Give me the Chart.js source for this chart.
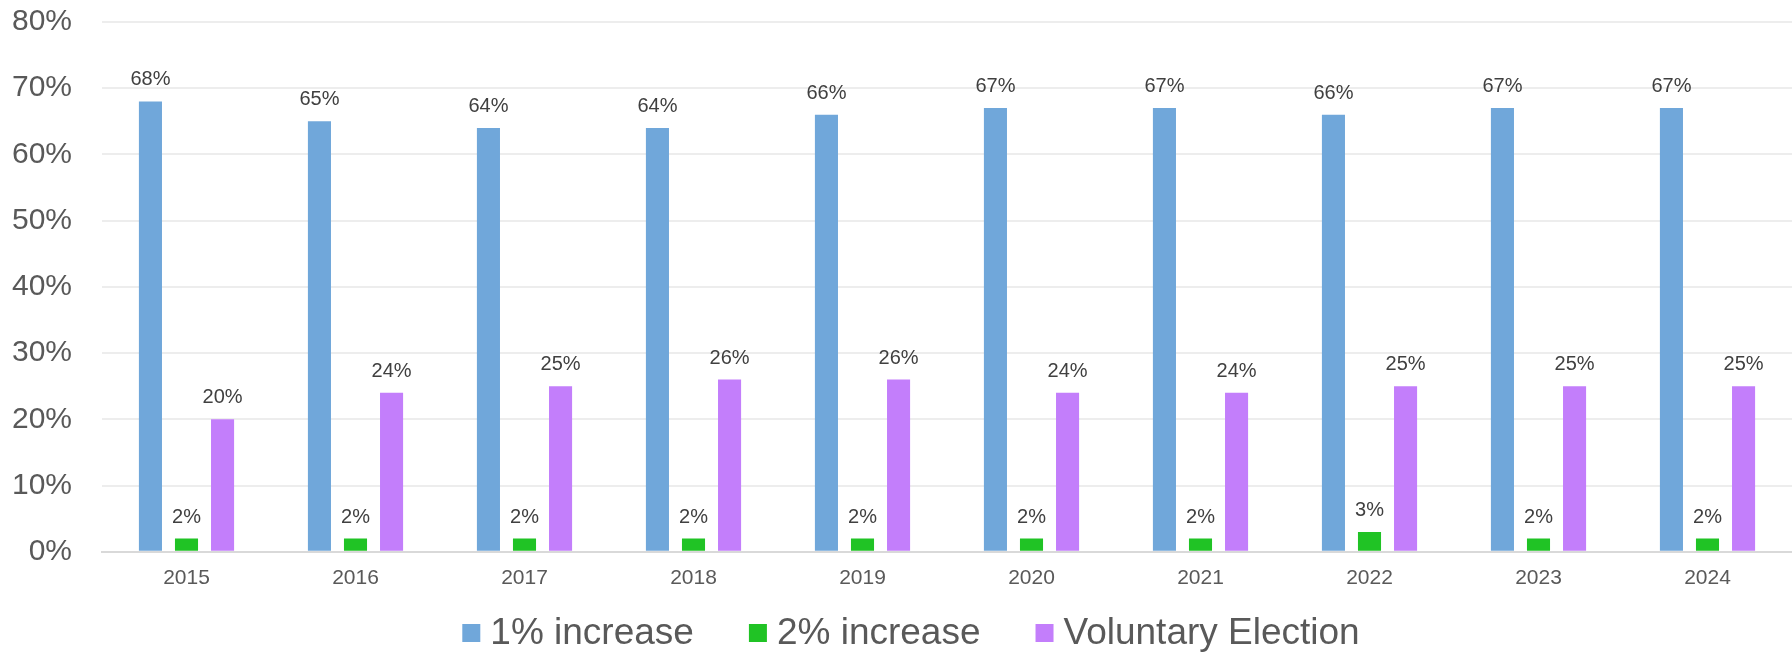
<!DOCTYPE html>
<html lang="en">
<head>
	<meta charset="UTF-8">
	<script src="https://cdn.jsdelivr.net/npm/chart.js"></script>
	<title>Contribution increase elections</title>
	<style>
		html, body { margin: 0; padding: 0; background: #ffffff; }
		#chartContainer { width: 1792px; height: 654px; }
	</style>
</head>
<body>
	<div id="chartContainer">
		<canvas id="myChart"></canvas>
	</div>
	<script>
		const years = ['2015', '2016', '2017', '2018', '2019', '2020', '2021', '2022', '2023', '2024'];
		const onePctIncrease = [68, 65, 64, 64, 66, 67, 67, 66, 67, 67];
		const twoPctIncrease = [2, 2, 2, 2, 2, 2, 2, 3, 2, 2];
		const voluntaryElection = [20, 24, 25, 26, 26, 24, 24, 25, 25, 25];
		const yTicks = [0, 10, 20, 30, 40, 50, 60, 70, 80];

		const fontFamily = '"Liberation Sans", Arial, sans-serif';

		// value labels above every bar
		const barValueLabels = {
			id: 'barValueLabels',
			afterDatasetsDraw(chart) {
				const ctx = chart.ctx;
				ctx.save();
				ctx.font = '20px ' + fontFamily;
				ctx.fillStyle = '#404040';
				ctx.textAlign = 'center';
				ctx.textBaseline = 'alphabetic';
				chart.data.datasets.forEach((ds, i) => {
					chart.getDatasetMeta(i).data.forEach((bar, j) => {
						ctx.fillText(ds.data[j] + '%', bar.x, bar.y - 16);
					});
				});
				ctx.restore();
			}
		};

		// legend drawn by hand so the box/text gap and item spacing can differ
		const bottomLegend = {
			id: 'bottomLegend',
			afterDraw(chart, args, opts) {
				const ctx = chart.ctx;
				const box = 18, gap = 10, spacing = 55;
				ctx.save();
				ctx.font = opts.size + 'px ' + fontFamily;
				ctx.textBaseline = 'middle';
				ctx.textAlign = 'left';
				const items = chart.data.datasets.map(ds => ({
					text: ds.label,
					color: ds.backgroundColor,
					w: box + gap + ctx.measureText(ds.label).width
				}));
				const total = items.reduce((s, it) => s + it.w, 0) + spacing * (items.length - 1);
				let x = chart.width / 2 + opts.shift - total / 2;
				const y = chart.height - opts.bottom;
				items.forEach(it => {
					ctx.fillStyle = it.color;
					ctx.fillRect(x, y - box / 2, box, box);
					ctx.fillStyle = '#595959';
					ctx.fillText(it.text, x + box + gap, y + 1);
					x += it.w + spacing;
				});
				ctx.restore();
			}
		};

		window.onload = function () {
			const ctx = document.getElementById('myChart').getContext('2d');
			new Chart(ctx, {
				type: 'bar',
				data: {
					labels: years,
					datasets: [
						{ label: '1% increase', data: onePctIncrease, backgroundColor: '#70A7DA' },
						{ label: '2% increase', data: twoPctIncrease, backgroundColor: '#20C325' },
						{ label: 'Voluntary Election', data: voluntaryElection, backgroundColor: '#C37EFB' }
					]
				},
				options: {
					responsive: true,
					maintainAspectRatio: false,
					animation: false,
					datasets: {
						bar: { categoryPercentage: 0.64, barPercentage: 0.64 }
					},
					layout: { padding: { left: 12, right: 0, top: 0, bottom: 57 } },
					plugins: {
						tooltip: { enabled: false },
						legend: { display: false },
						bottomLegend: { size: 37, shift: 15, bottom: 21 }
					},
					scales: {
						x: {
							grid: { display: false },
							border: { display: true, color: '#D9D9D9', width: 2 },
							ticks: {
								font: { family: fontFamily, size: 21 },
								color: '#595959',
								padding: 6
							}
						},
						y: {
							min: yTicks[0],
							max: yTicks[yTicks.length - 1],
							afterBuildTicks: axis => { axis.ticks = yTicks.map(v => ({ value: v })); },
							afterFit: axis => { axis.width = 90; },
							border: { display: false },
							// invisible tick marks keep the labels clear of the plot
							grid: { color: '#EDEDED', lineWidth: 2, drawTicks: true, tickLength: 26, tickColor: 'rgba(0,0,0,0)' },
							ticks: {
								font: { family: fontFamily, size: 30 },
								color: '#595959',
								padding: 4,
								callback: v => v + '%'
							}
						}
					}
				},
				plugins: [barValueLabels, bottomLegend]
			});
		};
	</script>
</body>
</html>
